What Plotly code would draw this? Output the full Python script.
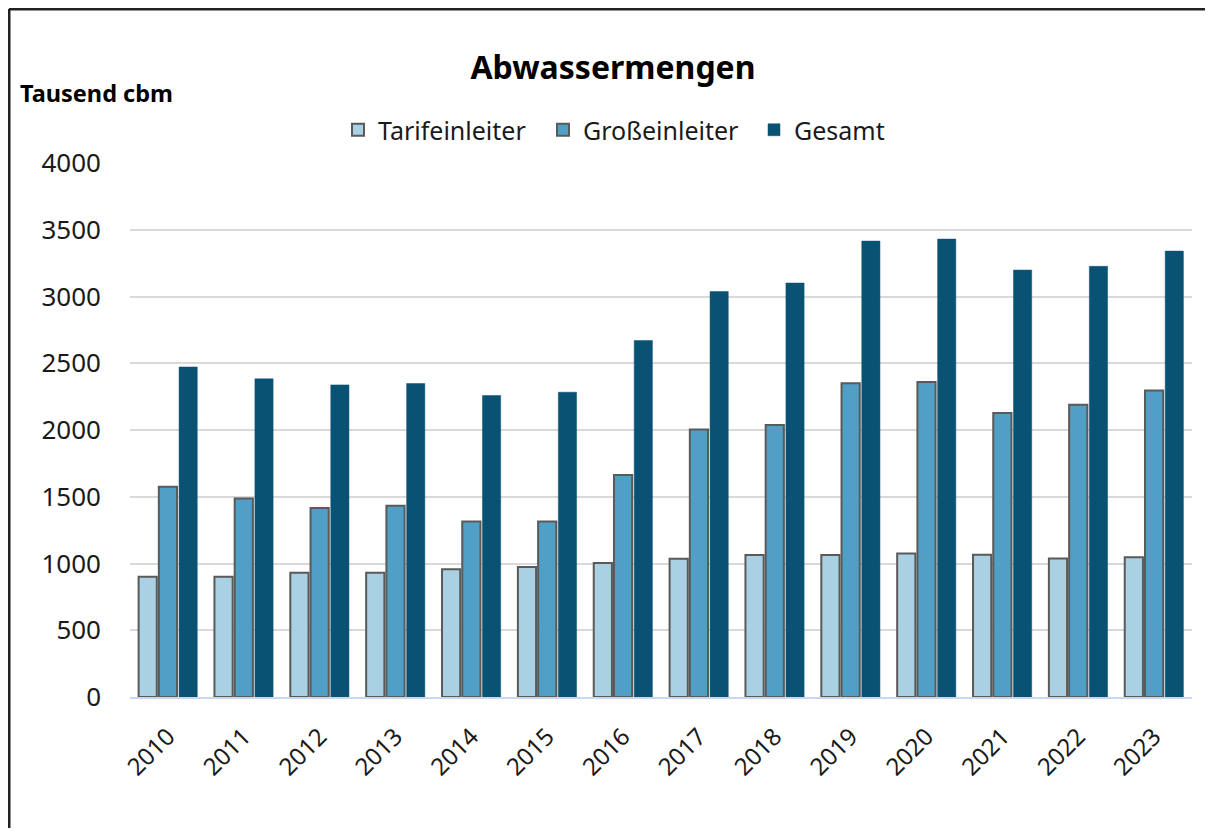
import plotly.graph_objects as go

years = ["2010", "2011", "2012", "2013", "2014", "2015", "2016",
         "2017", "2018", "2019", "2020", "2021", "2022", "2023"]
tarifeinleiter = [900, 900, 930, 930, 956, 973, 1003, 1035, 1063, 1063, 1075, 1065, 1038, 1046]
grosseinleiter = [1574, 1487, 1415, 1432, 1315, 1315, 1662, 2004, 2038, 2350, 2360, 2128, 2190, 2296]
gesamt = [2472, 2383, 2338, 2348, 2258, 2283, 2670, 3037, 3101, 3415, 3430, 3198, 3226, 3340]
y_ticks = [0, 500, 1000, 1500, 2000, 2500, 3000, 3500, 4000]

FONT = "Noto Sans"

# page body has an 8px margin; work in page pixel coordinates and convert
O = 8
W, H = 1213 - 2 * O, 836 - 2 * O
PL, PR, PT, PB = 130, 1192, 163, 697   # plot area in page pixels
L, R, T, B = PL - O, (W + O) - PR, PT - O, (H + O) - PB
pw, ph = W - L - R, H - T - B


def px_x(p):
    return (p - O - L) / pw


def px_y(p):
    return (H - B - (p - O)) / ph


fig = go.Figure()
fig.add_trace(go.Bar(name="Tarifeinleiter", x=years, y=tarifeinleiter, legendwidth=160,
                     marker=dict(color="#a9d0e3", line=dict(color="#5a5a5a", width=2))))
fig.add_trace(go.Bar(name="Großeinleiter", x=years, y=grosseinleiter, legendwidth=166,
                     marker=dict(color="#4f9fc7", line=dict(color="#5a5a5a", width=2))))
fig.add_trace(go.Bar(name="Gesamt", x=years, y=gesamt, legendwidth=90,
                     marker=dict(color="#0a5274", line=dict(color="#0a5274", width=0.5))))

fig.update_layout(
    width=W, height=H,
    margin=dict(l=L, r=R, t=T, b=B),
    paper_bgcolor="white", plot_bgcolor="white",
    font=dict(family=FONT, color="#1a1a1a"),
    barmode="group", bargap=0.2, bargroupgap=0.1,
    title=dict(text="<b>Abwassermengen</b>", x=(613 - O) / W, xanchor="center",
               y=1 - (68 - O) / H, yanchor="middle", font=dict(size=32, color="#000000")),
    legend=dict(orientation="h", x=px_x(338), xanchor="left", y=px_y(130), yanchor="middle",
                font=dict(size=25, color="#1a1a1a"), traceorder="normal",
                itemwidth=30, bgcolor="rgba(0,0,0,0)"),
    xaxis=dict(type="category", tickangle=-45, tickfont=dict(size=24, color="#1a1a1a"),
               showgrid=False, showline=True, linecolor="#c6d9ee", linewidth=2,
               ticks="", ticklabelstandoff=14),
    yaxis=dict(range=[0, 4000], tickvals=y_ticks, tickfont=dict(size=26, color="#1a1a1a"),
               showgrid=True, gridcolor="#d9d9d9", gridwidth=2, zeroline=False,
               showline=False, ticks="", ticklabelstandoff=28),
    annotations=[dict(text="<b>Tausend cbm</b>", xref="paper", yref="paper",
                      x=px_x(18), y=px_y(93), xanchor="left", yanchor="middle",
                      showarrow=False, font=dict(size=23.5, color="#000000"))],
    shapes=[
        dict(type="line", xref="paper", yref="paper", x0=px_x(9), x1=px_x(W + O),
             y0=px_y(9), y1=px_y(9), line=dict(color="#222222", width=3)),
        dict(type="line", xref="paper", yref="paper", x0=px_x(9), x1=px_x(9),
             y0=px_y(9), y1=px_y(H + O), line=dict(color="#222222", width=3)),
    ],
)

fig.write_html(
    "out.html",
    config={"displayModeBar": False},
    post_script="document.documentElement.style.overflow='hidden';"
                "document.body.style.overflow='hidden';",
)
